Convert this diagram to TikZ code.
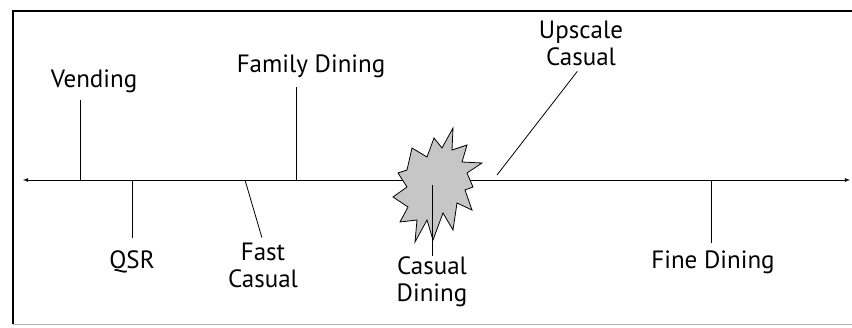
\documentclass[tikz,border=0pt]{standalone}
\usepackage{fontspec}
\setmainfont{PT Sans}

\begin{document}
\begin{tikzpicture}[x=1pt,y=-1pt]
\tikzset{lbl/.style={font=\fontsize{25}{27}\selectfont,align=center,inner sep=1pt}}
\useasboundingbox (0,0) rectangle (852,327);
% frame
\draw[line width=1.2pt] (860,11) -- (13,11) -- (13,324);
\draw[gray!60,line width=1pt] (13,324) -- (860,324);
% axis
\coordinate (L) at (23,180);
\coordinate (R) at (850,180);
\draw[latex-latex,thick] (L) -- (R);
\coordinate (tV) at (80,180);
\coordinate (tQ) at (132,180);
\coordinate (tFC) at (245,180);
\coordinate (tF) at (296,180);
\coordinate (tC) at (432,185);
\coordinate (tU) at (497,175);
\coordinate (tFD) at (711,180);
% starburst
\draw[fill=gray!45,thick] (398,173) -- (407,170) -- (412,148) -- (427,157) -- (434,138) -- (442,148)
  -- (453,128) -- (452,150) -- (467,145) -- (462,162) -- (482,163) -- (467,173) -- (473,187)
  -- (465,190) -- (472,210) -- (457,203) -- (453,230) -- (443,213) -- (433,240) -- (427,220)
  -- (415,242) -- (417,220) -- (400,222) -- (408,207) -- (393,197) -- (407,187) -- cycle;
% labels
\node[lbl] (vending) at (94,81) {Vending};
\node[lbl] (qsr) at (132,262) {QSR};
\node[lbl] (fastcas) at (263,265) {Fast\\Casual};
\node[lbl] (family) at (311,66) {Family Dining};
\node[lbl] (casdin) at (432,282) {Casual\\Dining};
\node[lbl] (upscale) at (581,43) {Upscale\\Casual};
\node[lbl] (fine) at (713,262) {Fine Dining};
% ticks
\draw[thick,shorten >=6pt] (tV) -- (tV |- vending.south);
\draw[thick,shorten >=12pt] (tQ) -- (tQ |- qsr.north);
\draw[thick,shorten >=4pt] (tFC) -- (fastcas.north);
\draw[thick,shorten >=8pt] (tF) -- (tF |- family.south);
\draw[thick] (tC) -- (casdin.north);
\draw[thick,shorten >=6pt] (tU) -- (upscale.south);
\draw[thick,shorten >=6pt] (tFD) -- (tFD |- fine.north);
\end{tikzpicture}
\end{document}
